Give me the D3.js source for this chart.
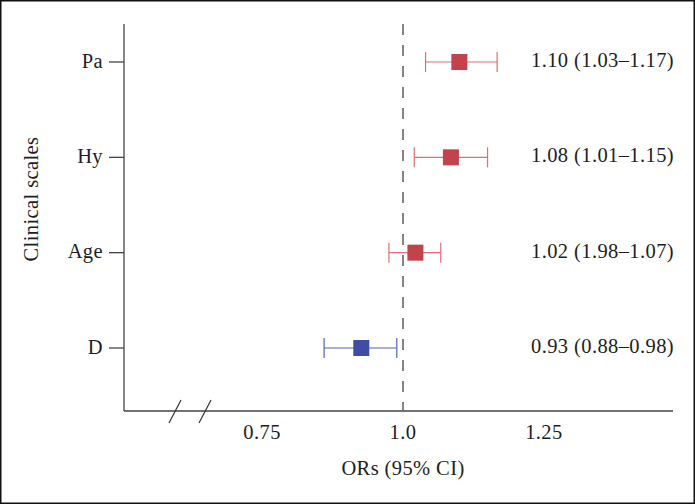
<!DOCTYPE html>
<html><head><meta charset="utf-8">
<script src="https://cdn.jsdelivr.net/npm/d3@7"></script>
<style>
html,body{margin:0;padding:0;background:#fff;}
svg{display:block;}
</style></head>
<body>
<script>
const categories = ["Pa", "Hy", "Age", "D"];
const estimates = [1.10, 1.085, 1.022, 0.926];
const lowerCI = [1.040, 1.020, 0.975, 0.860];
const upperCI = [1.167, 1.150, 1.067, 0.989];
const labels = ["1.10 (1.03\u20131.17)", "1.08 (1.01\u20131.15)", "1.02 (1.98\u20131.07)", "0.93 (0.88\u20130.98)"];
const colors = ["#c4424b", "#c4424b", "#c4424b", "#3e4ea5"];
const whiskerColors = ["#dc6f74", "#dc6f74", "#dc6f74", "#5563b0"];
const xTicks = [0.75, 1.0, 1.25];
const xTickLabels = ["0.75", "1.0", "1.25"];
const refValue = 1.0;

const W = 695, H = 504;
const FONT = "'Liberation Serif', 'DejaVu Serif', 'Times New Roman', serif";
const FS = 20.5, LS = 0.4;
const svg = d3.select("body").append("svg").attr("width", W).attr("height", H)
  .attr("font-family", FONT);

svg.append("rect").attr("x", 0.75).attr("y", 0.75).attr("width", W - 1.5).attr("height", H - 1.5)
  .attr("fill", "none").attr("stroke", "#111").attr("stroke-width", 1.5);

const x = d3.scaleLinear().domain([0.505, 1.479]).range([124, 673]);
const y = d3.scalePoint().domain(categories).range([62, 348]);
const axisY = 411, axisTop = 24;

function txt(sel) {
  return sel.attr("font-family", FONT).attr("fill", "#1e1e1e")
    .attr("font-size", FS).attr("letter-spacing", LS);
}

// y axis
svg.append("line").attr("x1", 124).attr("x2", 124).attr("y1", axisTop).attr("y2", axisY)
  .attr("stroke", "#444").attr("stroke-width", 1.3);
categories.forEach(c => {
  svg.append("line").attr("x1", 109).attr("x2", 124).attr("y1", y(c)).attr("y2", y(c))
    .attr("stroke", "#444").attr("stroke-width", 1.3);
  txt(svg.append("text")).attr("x", 103).attr("y", y(c)).attr("dy", "0.27em")
    .attr("text-anchor", "end").text(c);
});

// x axis
svg.append("line").attr("x1", 124).attr("x2", 673).attr("y1", axisY).attr("y2", axisY)
  .attr("stroke", "#444").attr("stroke-width", 1.6);
[175, 205].forEach(bx => {
  svg.append("line").attr("x1", bx - 6).attr("x2", bx + 6).attr("y1", axisY + 12).attr("y2", axisY - 11)
    .attr("stroke", "#333").attr("stroke-width", 1.2);
});
xTicks.forEach((t, i) => {
  txt(svg.append("text")).attr("x", x(t)).attr("y", 439).attr("text-anchor", "middle")
    .text(xTickLabels[i]);
});
txt(svg.append("text")).attr("x", x(refValue)).attr("y", 475).attr("text-anchor", "middle")
  .text("ORs (95% CI)");
txt(svg.append("text")).attr("transform", "translate(38,199) rotate(-90)").attr("text-anchor", "middle")
  .text("Clinical scales");

// reference line
svg.append("line").attr("x1", x(refValue)).attr("x2", x(refValue)).attr("y1", axisTop).attr("y2", axisY)
  .attr("stroke", "#666").attr("stroke-width", 1.6).attr("stroke-dasharray", "11,10");

const g = svg.append("g");
categories.forEach((c, i) => {
  const cy = y(c);
  g.append("line").attr("x1", x(lowerCI[i])).attr("x2", x(upperCI[i])).attr("y1", cy).attr("y2", cy)
    .attr("stroke", whiskerColors[i]).attr("stroke-width", 1.2);
  [lowerCI[i], upperCI[i]].forEach(v => {
    g.append("line").attr("x1", x(v)).attr("x2", x(v)).attr("y1", cy - 10).attr("y2", cy + 10)
      .attr("stroke", whiskerColors[i]).attr("stroke-width", 1.2);
  });
  g.append("rect").attr("x", x(estimates[i]) - 8).attr("y", cy - 8).attr("width", 16).attr("height", 16)
    .attr("fill", colors[i]);
  txt(g.append("text")).attr("x", 531).attr("y", cy).attr("dy", "0.25em")
    .text(labels[i]);
});
</script>
</body></html>
